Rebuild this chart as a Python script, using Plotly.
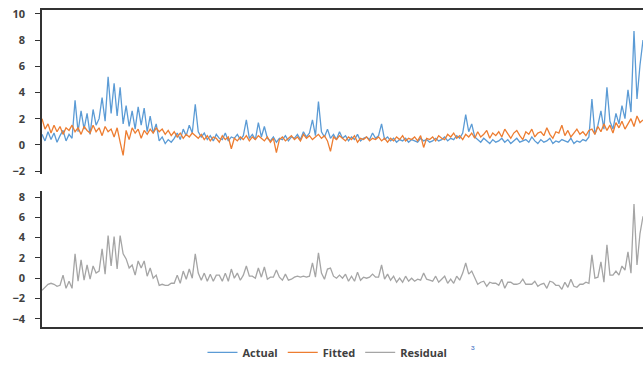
import plotly.graph_objects as go

actual = [
    0.8, 0.3, 1.0, 0.4, 0.9, 0.2, 0.7, 1.1, 0.3, 0.8, 0.5,
    3.4,
    1.0, 2.6, 1.2, 2.4, 0.8, 2.7, 1.5,
    2.0, 3.6, 1.8, 5.2, 2.4, 4.7, 2.2, 4.4,
    1.6, 3.0, 1.4, 2.6, 1.2, 2.9, 1.5, 2.8, 1.0, 2.2,
    0.9, 1.6, 0.3, 0.6, 0.1, 0.4, 0.2, 0.5,
    0.9, 0.4, 1.2, 0.7, 1.5, 0.9, 3.1, 1.0,
    0.6, 0.9, 0.4, 0.7, 0.3, 0.8, 0.5, 0.4, 0.9, 0.3, 0.6, 0.5, 0.8, 0.4, 0.7, 1.9,
    0.5, 0.8, 0.4, 1.7, 0.6, 1.4, 0.5,
    0.3, 0.6, 0.2, 0.5, 0.4, 0.7, 0.3, 0.6, 0.5, 0.8, 0.4, 1.0, 0.6, 0.9, 1.9, 0.7,
    3.3, 1.0, 0.6, 1.2, 0.5, 0.8, 0.4, 1.0, 0.5,
    0.7, 0.3, 0.6, 0.4, 0.8, 0.3, 0.5, 0.6, 0.4, 0.9,
    0.5, 0.7, 1.6, 0.4, 0.6,
    0.3, 0.5, 0.2, 0.4, 0.3, 0.5, 0.2, 0.4, 0.3, 0.2,
    0.5, 0.3, 0.4, 0.2, 0.3, 0.5, 0.3, 0.4, 0.6, 0.3,
    0.5, 0.4, 0.7, 0.5, 0.9,
    2.3, 1.0, 1.6, 0.6,
    0.4, 0.2, 0.5, 0.3, 0.1, 0.4, 0.2, 0.3, 0.5, 0.2,
    0.4, 0.1, 0.3, 0.5, 0.2, 0.3, 0.4, 0.2, 0.6, 0.3,
    0.1, 0.4, 0.2, 0.3, 0.5, 0.1, 0.3, 0.2, 0.4, 0.3,
    0.2, 0.5, 0.1, 0.3, 0.2, 0.4, 0.3, 0.6,
    3.5, 0.8, 1.5, 2.6, 1.2, 4.4, 1.8, 1.2, 2.4, 1.6, 3.0, 2.0, 4.2, 2.5, 8.7, 3.5, 6.1, 8.0,
]

fitted = [
    2.0, 1.2, 1.6, 0.9, 1.5, 1.0, 1.4, 0.8, 1.3, 1.1, 1.5,
    1.0, 1.3, 0.8, 1.4, 1.1, 0.9, 1.5, 1.0,
    1.3, 0.7, 1.4, 1.0, 1.2, 0.6, 1.3, 0.2,
    -0.8, 1.1, 0.4, 1.3, 0.9, 1.2, 0.5, 1.1, 0.8, 1.2,
    0.9, 1.3, 1.0, 1.2, 0.8, 1.1, 0.7, 1.0,
    0.6, 0.9, 0.5, 0.8, 0.6, 0.9, 0.7, 0.5,
    0.8, 0.4, 0.7, 0.3, 0.6, 0.5, 0.2, 0.7, 0.4, 0.6, -0.3, 0.5, 0.3, 0.6, 0.4, 0.7,
    0.3, 0.6, 0.4, 0.7, 0.5, 0.3, 0.6,
    0.2, 0.5, -0.6, 0.4, 0.6, 0.3, 0.5, 0.7, 0.4, 0.6, 0.3, 0.8, 0.5, 0.7, 0.4, 0.6,
    0.8, 0.5, 0.7, 0.3, -0.5, 0.6, 0.4, 0.7, 0.5,
    0.3, 0.6, 0.4, 0.7, 0.2, 0.5, 0.4, 0.6, 0.3, 0.5,
    0.4, 0.6, 0.3, 0.5, 0.2,
    0.5, 0.3, 0.6, 0.4, 0.7, 0.3, 0.5, 0.4, 0.6, 0.3,
    0.7, -0.2, 0.5, 0.4, 0.6, 0.3, 0.7, 0.5, 0.4, 0.8,
    0.6, 0.9, 0.5, 0.7, 0.4,
    0.8, 0.6, 0.9, 0.5,
    1.0, 0.6, 0.8, 1.1, 0.5, 0.9, 0.7, 1.0, 0.6, 1.2,
    0.8, 0.5, 0.9, 1.1, 0.7, 0.4, 1.0, 0.8, 1.2, 0.6,
    0.9, 1.0, 0.7, 1.3, 0.8, 0.5, 1.0, 0.9, 1.5, 0.7,
    1.1, 0.6, 0.9, 1.2, 0.8, 1.0, 0.7, 1.1,
    1.2, 0.8, 1.4, 1.0, 1.6, 1.1, 1.5, 0.9, 1.7, 1.3, 1.8, 1.2, 1.6, 2.0, 1.4, 2.2, 1.7, 1.9,
]

residual = [round(a - f, 2) for a, f in zip(actual, fitted)]
obs = list(range(len(actual)))

top_ticks = [-2, 0, 2, 4, 6, 8, 10]
bottom_ticks = [-4, -2, 0, 2, 4, 6, 8]

fig = go.Figure()
fig.add_trace(go.Scatter(x=obs, y=actual, name="Actual", mode="lines",
                         line=dict(color="#5B9BD5", width=1.3), xaxis="x", yaxis="y"))
fig.add_trace(go.Scatter(x=obs, y=fitted, name="Fitted", mode="lines",
                         line=dict(color="#ED7D31", width=1.3), xaxis="x", yaxis="y"))
fig.add_trace(go.Scatter(x=obs, y=residual, name="Residual", mode="lines",
                         line=dict(color="#A5A5A5", width=1.3), xaxis="x2", yaxis="y2"))

axis_color = "#333333"
tickfont = dict(family="Open Sans", size=11, color="#404040", weight="bold")

fig.update_layout(
    width=643, height=367,
    margin=dict(l=42, r=0, t=10, b=32),
    paper_bgcolor="white", plot_bgcolor="white",
    showlegend=True,
    legend=dict(orientation="h", x=0.475, xanchor="center", y=-0.08, yanchor="middle",
                font=dict(family="Open Sans", size=11, color="#404040", weight="bold"),
                itemwidth=30, bgcolor="rgba(0,0,0,0)"),
    xaxis=dict(domain=[0, 1], range=[0, len(actual) - 1], anchor="y", side="top",
               showline=True, linecolor=axis_color, linewidth=1.5,
               showticklabels=False, ticks="", showgrid=False, zeroline=False),
    yaxis=dict(domain=[0.483, 1.0], range=[-2.22, 10.3], anchor="x",
               tickvals=top_ticks, ticks="outside", ticklen=5, tickcolor=axis_color,
               ticklabelstandoff=8,
               showline=True, linecolor=axis_color, linewidth=1.5,
               showgrid=False, zeroline=False, tickfont=tickfont),
    xaxis2=dict(domain=[0, 1], range=[0, len(actual) - 1], anchor="y2",
                showline=True, linecolor=axis_color, linewidth=1.5,
                showticklabels=False, ticks="", showgrid=False, zeroline=False),
    yaxis2=dict(domain=[0, 0.428], range=[-4.81, 8.56], anchor="x2",
                tickvals=bottom_ticks, ticks="outside", ticklen=5, tickcolor=axis_color,
                ticklabelstandoff=8,
                showline=True, linecolor=axis_color, linewidth=1.5,
                showgrid=False, zeroline=False, tickfont=tickfont),
    annotations=[dict(text="ɜ", x=(477 - 42) / 601, y=-0.085, xref="paper", yref="paper",
                      showarrow=False, font=dict(size=8, color="#4472C4"))],
)

fig.write_html(
    "out.html",
    config={"displayModeBar": False},
    post_script="document.body.style.margin='0';document.body.style.overflow='hidden';",
)
